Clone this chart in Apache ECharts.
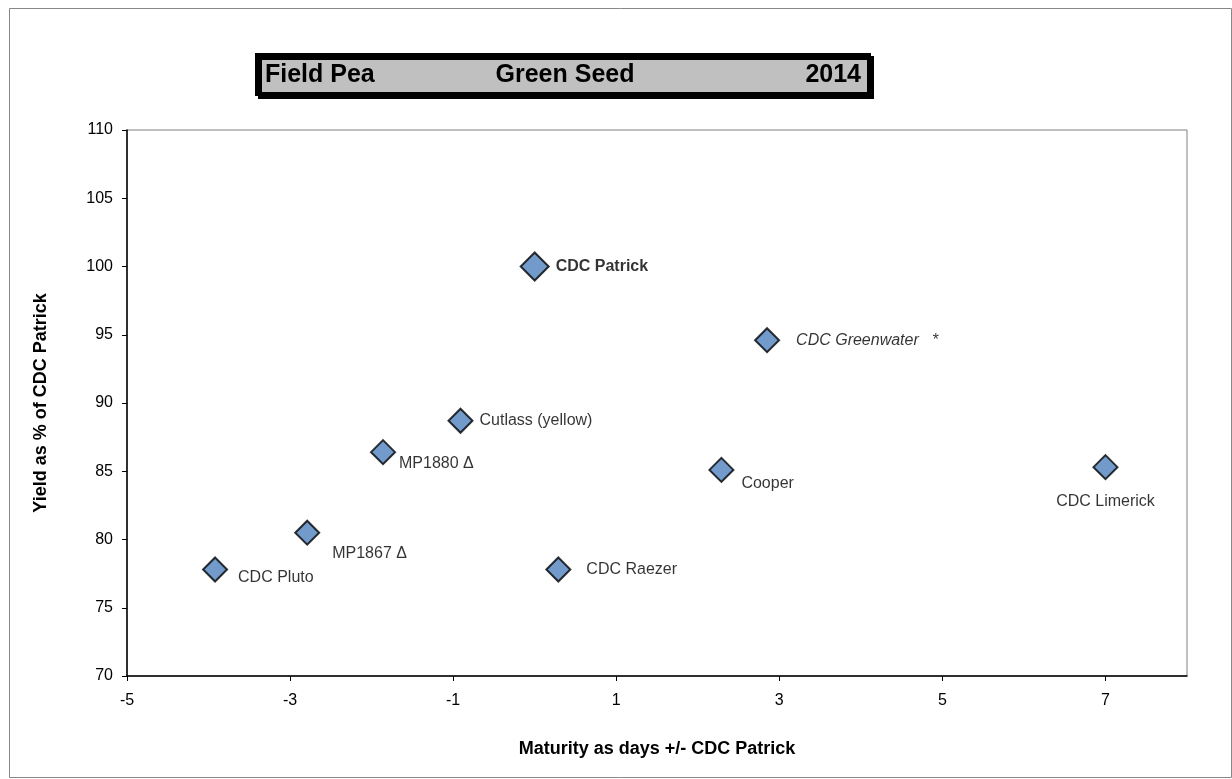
<!DOCTYPE html>
<html>
<head>
<meta charset="utf-8">
<script src="https://cdn.jsdelivr.net/npm/echarts@6/dist/echarts.min.js"></script>
<style>
  html, body { margin: 0; padding: 0; background: #fff; }
  #chart { width: 1232px; height: 779px; }
</style>
</head>
<body>
<div id="chart"></div>
<script>
// field pea green seed, 2014 - yield vs maturity relative to CDC Patrick
const cultivars = ["CDC Pluto", "MP1867 Δ", "MP1880 Δ", "Cutlass (yellow)", "CDC Patrick", "CDC Raezer", "Cooper", "CDC Greenwater   *", "CDC Limerick"];
const maturityDays = [-3.92, -2.79, -1.86, -0.91, 0.0, 0.29, 2.29, 2.85, 7.0];
const yieldPct = [77.8, 80.5, 86.4, 88.7, 100, 77.8, 85.1, 94.6, 85.3];
const titleParts = ["Field Pea", "Green Seed", "2014"];

const FONT = "Liberation Sans, Arial, sans-serif";

// label placement per point (the excel chart had them dragged around by hand)
const labelPlace = {
  "CDC Pluto": { position: "right", offset: [5, 8] },
  "MP1867 Δ": { position: "right", offset: [7, 21] },
  "MP1880 Δ": { position: "right", offset: [-2, 11] },
  "Cutlass (yellow)": { position: "right", distance: 6 },
  "CDC Patrick": { position: "right", distance: 6, fontWeight: "bold" },
  "CDC Raezer": { position: "right", distance: 15 },
  "Cooper": { position: "right", offset: [2, 14] },
  "CDC Greenwater   *": { position: "right", distance: 16, fontStyle: "italic" },
  "CDC Limerick": { position: "bottom", distance: 13 },
};

const points = cultivars.map((name, i) => ({
  name: name,
  value: [maturityDays[i], yieldPct[i]],
  symbolSize: name === "CDC Patrick" ? 28 : 24,
  label: Object.assign({ show: true, formatter: "{b}" }, labelPlace[name]),
}));

const chart = echarts.init(document.getElementById("chart"));

chart.setOption({
  animation: false,
  backgroundColor: "#fff",
  textStyle: { fontFamily: FONT },
  title: {
    left: 257,
    top: 55,
    padding: [8, 8, 6, 8],
    backgroundColor: "#C0C0C0",
    borderColor: "#000",
    borderWidth: 4,
    shadowColor: "#000",
    shadowOffsetX: 3,
    shadowOffsetY: 3,
    text: "{a|" + titleParts[0] + "}{b|" + titleParts[1] + "}{c|" + titleParts[2] + "}",
    textStyle: {
      rich: {
        a: { width: 200, align: "left", fontSize: 25, fontWeight: "bold", fontFamily: FONT, color: "#000" },
        b: { width: 200, align: "center", fontSize: 25, fontWeight: "bold", fontFamily: FONT, color: "#000" },
        c: { width: 196, align: "right", fontSize: 25, fontWeight: "bold", fontFamily: FONT, color: "#000" },
      },
    },
  },
  graphic: [
    {
      type: "rect",
      shape: { x: 9.5, y: 8.5, width: 1222, height: 769 },
      style: { fill: null, stroke: "#888", lineWidth: 1 },
      silent: true,
    },
  ],
  grid: {
    left: 127,
    right: 45,
    top: 130,
    bottom: 103,
    show: true,
    borderColor: "#808080",
    borderWidth: 1,
  },
  xAxis: {
    type: "value",
    min: -5,
    max: 8,
    interval: 2,
    name: "Maturity as days +/- CDC Patrick",
    nameLocation: "middle",
    nameGap: 64,
    nameTextStyle: { fontSize: 18, fontWeight: "bold", color: "#000", fontFamily: FONT },
    axisLine: { show: true, onZero: false, lineStyle: { color: "#000", width: 1.5 } },
    axisTick: { show: true, length: 5, lineStyle: { color: "#000" } },
    axisLabel: { fontSize: 16, color: "#000", margin: 17, showMaxLabel: false },
    splitLine: { show: false },
  },
  yAxis: {
    type: "value",
    min: 70,
    max: 110,
    interval: 5,
    name: "Yield as % of CDC Patrick",
    nameLocation: "middle",
    nameGap: 77,
    nameTextStyle: { fontSize: 18, fontWeight: "bold", color: "#000", fontFamily: FONT },
    axisLine: { show: true, onZero: false, lineStyle: { color: "#000", width: 1.5 } },
    axisTick: { show: true, length: 5, lineStyle: { color: "#000" } },
    axisLabel: { fontSize: 16, color: "#000", margin: 14 },
    splitLine: { show: false },
  },
  series: [
    {
      type: "scatter",
      symbol: "diamond",
      itemStyle: { color: "#4F81BD", borderColor: "#000", borderWidth: 2 },
      label: { fontSize: 16, color: "#000", fontFamily: FONT },
      data: points,
    },
  ],
});
</script>
</body>
</html>
